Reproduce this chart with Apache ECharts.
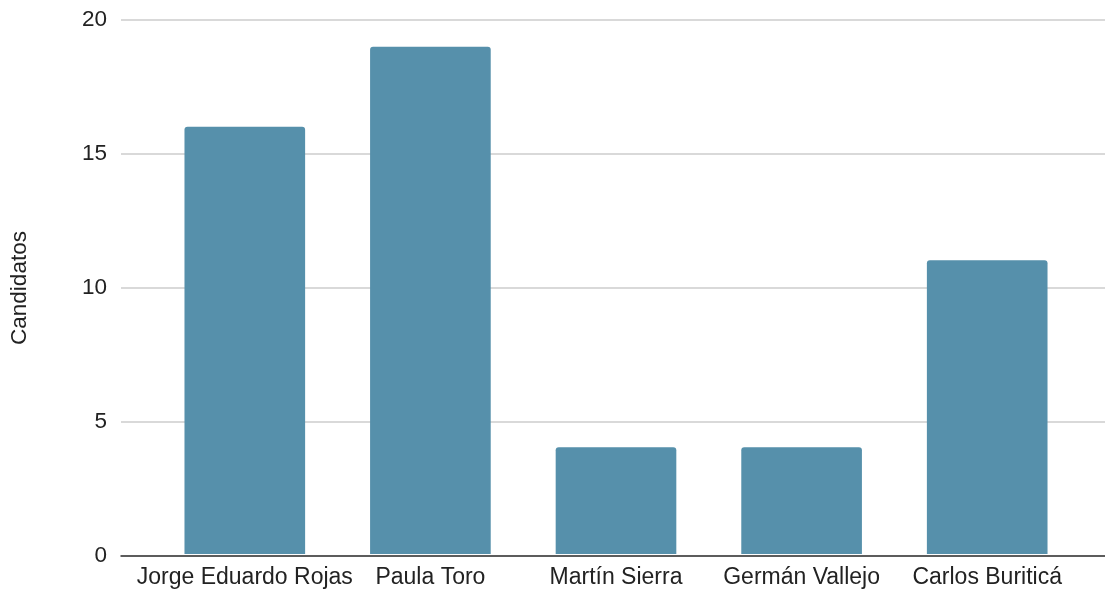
<!DOCTYPE html>
<html>
<head>
<meta charset="utf-8">
<script src="https://cdn.jsdelivr.net/npm/echarts@6/dist/echarts.min.js"></script>
<style>
  html, body { margin: 0; padding: 0; background: #fff; }
  #chart { width: 1105px; height: 589px; }
</style>
</head>
<body>
<div id="chart"></div>
<script>
// datos
var candidatos = ['Jorge Eduardo Rojas', 'Paula Toro', 'Martín Sierra', 'Germán Vallejo', 'Carlos Buriticá'];
var valores = [16, 19, 4, 4, 11];

var fuente = 'Liberation Sans, Arial, sans-serif';
var myChart = echarts.init(document.getElementById('chart'));
var option = {
    backgroundColor: '#FFFFFF',
    animation: false,
    grid: [
        // rejilla de fondo: lineas y eje y
        {left: 120, right: 0, top: 20, bottom: 33},
        // barras
        {left: 152, right: 25, top: 20, bottom: 33}
    ],
    xAxis: [
        {
            type: 'category', gridIndex: 0, data: [''],
            axisLine: {show: true, lineStyle: {color: '#333', width: 1.5}},
            axisTick: {show: false},
            axisLabel: {show: false}
        },
        {
            type: 'category', gridIndex: 1, data: candidatos,
            axisLine: {show: false},
            axisTick: {show: false},
            axisLabel: {interval: 0, margin: 12, color: '#222', fontSize: 23, fontFamily: fuente}
        }
    ],
    yAxis: [
        {
            type: 'value', gridIndex: 0, min: 0, max: 20, interval: 5,
            name: 'Candidatos', nameLocation: 'middle', nameGap: 90,
            nameTextStyle: {color: '#222', fontSize: 22.5, fontFamily: fuente},
            axisLine: {show: false},
            axisTick: {show: false},
            axisLabel: {margin: 14, color: '#222', fontSize: 22.5, fontFamily: fuente},
            splitLine: {lineStyle: {color: '#cccccc', width: 1.5}}
        },
        {
            type: 'value', gridIndex: 1, min: 0, max: 20, interval: 5,
            show: false
        }
    ],
    series: [{
        name: 'Candidatos',
        type: 'bar',
        xAxisIndex: 1,
        yAxisIndex: 1,
        barWidth: '65%',
        itemStyle: {color: '#5690AB', borderRadius: [3, 3, 0, 0]},
        data: valores
    }]
};
myChart.setOption(option);
</script>
</body>
</html>
